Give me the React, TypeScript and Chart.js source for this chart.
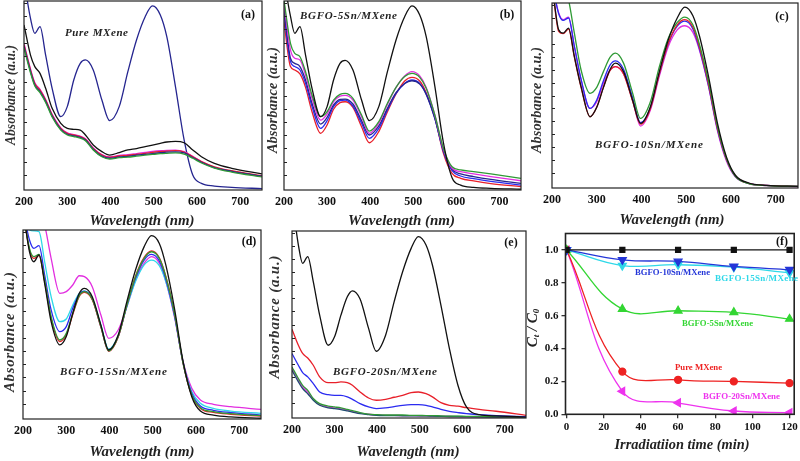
import { useEffect, useRef } from 'react';
import { Chart, registerables } from 'chart.js';
Chart.register(...registerables);

const SERIF = '"Liberation Serif", "Times New Roman", serif';
const W = 800;
const H = 461;

// ---------- DATA ----------
const WL = [200, 215, 225, 237, 250, 265, 285, 300, 315, 330, 342, 360, 380, 398, 420, 440, 460, 480, 497, 515, 530, 550, 570, 590, 610, 640, 680, 750];
const WL_TICKS = [200, 300, 400, 500, 600, 700];
const MINOR_TICKS = [8, 15, 22, 29, 36, 43, 50, 57, 64, 71, 78, 85, 92, 99];

// (a) Pure MXene
const A_DYE = [111, 90.8, 82.9, 86.4, 71.4, 53.8, 38.8, 44.1, 58.2, 67.0, 68.8, 63.5, 47.6, 36.7, 44.1, 62.6, 79.4, 91.7, 97.4, 92.6, 81.1, 54.7, 26.5, 7.9, 3.5, 2.1, 1.4, 0.7];
const A_BLACK = [87.3, 71.4, 65.3, 61.7, 53.8, 43.2, 35.3, 32.6, 32.1, 31.7, 29.1, 23.8, 20.3, 18.5, 19.8, 21.2, 21.9, 22.9, 23.8, 24.7, 25.4, 25.7, 25.0, 21.2, 17.6, 14.1, 11.5, 8.5];
const A_RED = [76.7, 63.5, 56.4, 52.9, 47.6, 39.7, 32.6, 30.0, 29.1, 28.2, 26.8, 22.0, 18.5, 17.3, 18.0, 18.3, 18.9, 19.4, 19.9, 20.3, 20.6, 20.8, 20.1, 17.6, 15.0, 12.3, 10.2, 7.6];
const A_MAG = [77.5, 64.0, 56.8, 53.2, 47.9, 40.0, 32.9, 30.2, 29.3, 28.5, 27.1, 22.3, 18.7, 17.5, 18.3, 18.7, 19.3, 19.9, 20.4, 20.8, 21.0, 21.1, 20.3, 17.8, 15.0, 12.0, 9.8, 7.2];
const A_GREEN = [75.2, 62.0, 55.0, 51.5, 46.3, 38.6, 31.7, 29.1, 28.3, 27.4, 26.0, 21.2, 17.6, 16.4, 17.1, 17.4, 17.9, 18.4, 18.8, 19.2, 19.4, 19.6, 19.0, 16.8, 14.3, 11.6, 9.5, 6.9];
const A_BLUE = [76.0, 62.8, 55.6, 52.1, 46.9, 39.1, 32.1, 29.5, 28.7, 27.8, 26.4, 21.6, 17.9, 16.8, 17.5, 17.8, 18.4, 18.9, 19.3, 19.7, 20.0, 20.2, 19.6, 17.2, 14.7, 11.9, 9.9, 7.3];

// (b) BGFO-5Sn/MXene
const B_BLACK = [111, 92.0, 82.9, 86.4, 71.4, 53.8, 38.8, 44.1, 58.2, 67.0, 68.6, 63.5, 47.6, 36.7, 44.1, 62.6, 79.4, 91.7, 97.4, 92.6, 81.1, 55.0, 25.0, 6.5, 2.6, 1.4, 0.9, 0.4];
const B_GREEN = [100.5, 77.6, 72.3, 70.5, 62.6, 50.3, 38.8, 41.4, 47.6, 50.6, 51.1, 48.5, 39.7, 31.2, 36.2, 45.9, 54.3, 60.0, 61.7, 59.6, 53.8, 39.7, 22.0, 12.3, 10.6, 9.7, 8.5, 6.2];
const B_MAG = [98.8, 74.1, 69.7, 68.8, 60.8, 48.5, 37.0, 40.2, 46.7, 49.7, 50.1, 47.6, 38.8, 30.0, 35.3, 45.3, 54.3, 60.3, 62.6, 60.3, 54.3, 39.7, 21.5, 11.5, 9.7, 8.5, 7.1, 4.9];
const B_NAVY = [96.1, 69.7, 67.0, 65.3, 58.2, 45.9, 34.9, 38.4, 45.0, 48.0, 48.1, 45.5, 36.7, 29.1, 33.9, 43.2, 51.5, 56.4, 57.8, 56.1, 50.6, 37.9, 20.8, 10.9, 8.5, 7.1, 5.6, 3.5];
const B_BLUE = [93.5, 67.9, 65.3, 63.5, 56.4, 44.1, 32.6, 36.7, 44.1, 47.3, 47.6, 44.4, 35.3, 27.3, 32.6, 42.3, 51.1, 56.4, 58.2, 56.4, 50.8, 37.9, 20.3, 10.2, 7.4, 6.0, 4.6, 2.6];
const B_RED = [89.1, 65.3, 63.5, 61.4, 54.3, 41.4, 30.0, 34.4, 42.7, 46.2, 46.7, 43.7, 33.5, 25.0, 30.9, 41.4, 50.8, 57.7, 59.6, 57.7, 51.5, 38.4, 19.4, 8.8, 6.2, 4.8, 3.4, 1.8];

// (c) BGFO-10Sn/MXene
const C_BLACK = [110.8, 85.5, 83.7, 86.4, 71.1, 54.8, 38.5, 43.6, 54.4, 64.2, 67.5, 62.9, 47.6, 34.9, 43.9, 62.9, 80.1, 91.9, 97.8, 93.1, 81.9, 60.2, 34.9, 16.8, 6.9, 2.7, 1.4, 0.9];
const C_GREEN = [140, 125, 112, 101.8, 83.7, 63.8, 51.2, 54.4, 62.9, 70.7, 72.9, 67.5, 51.5, 37.6, 46.6, 65.6, 81.0, 89.5, 92.4, 88.2, 77.4, 57.5, 33.1, 15.9, 6.3, 2.4, 1.3, 0.9];
const C_MAG = [111, 94.6, 91.0, 92.4, 76.5, 58.4, 43.0, 46.6, 56.6, 63.8, 65.6, 61.7, 47.6, 33.5, 42.1, 60.5, 76.5, 85.5, 87.7, 84.1, 74.2, 54.8, 30.9, 14.6, 6.0, 2.4, 1.3, 0.7];
const C_BLUE = [111, 94.2, 90.6, 91.9, 76.5, 58.8, 43.0, 47.6, 58.0, 66.5, 68.7, 64.2, 49.0, 35.3, 43.4, 61.7, 78.1, 87.5, 90.2, 86.0, 75.0, 55.2, 31.6, 15.4, 6.3, 2.5, 1.4, 0.9];
const C_RED = [110.8, 84.6, 83.4, 85.9, 70.7, 54.4, 38.5, 43.6, 54.4, 63.5, 65.6, 61.7, 47.2, 34.5, 43.0, 61.7, 78.3, 88.2, 91.0, 87.0, 76.1, 56.2, 32.2, 15.7, 6.5, 2.5, 1.4, 0.9];

// (d) BGFO-15Sn/MXene
const D_BLACK = [111.5, 88.5, 83.2, 86.8, 71.8, 51.5, 39.2, 43.6, 55.9, 66.5, 69.1, 64.7, 49.7, 36.5, 44.4, 62.1, 78.8, 91.2, 97.0, 92.9, 81.5, 58.6, 30.3, 11.8, 4.2, 2.1, 1.1, 0.4];
const D_GREEN = [110, 90.3, 85.9, 87.1, 73.5, 54.1, 41.8, 45.3, 55.9, 65.3, 67.4, 63.5, 48.9, 36.0, 43.6, 60.3, 75.3, 85.0, 88.5, 85.0, 75.3, 55.9, 29.5, 12.7, 6.0, 3.9, 2.8, 1.8];
const D_RED = [110, 89.5, 85.0, 86.5, 72.8, 53.3, 41.0, 44.6, 55.3, 64.9, 67.0, 63.1, 48.6, 35.8, 43.4, 60.3, 75.6, 85.5, 88.9, 85.3, 75.5, 56.0, 29.5, 12.5, 5.6, 3.5, 2.5, 1.5];
const D_BLUE = [111, 94.7, 90.3, 91.7, 76.2, 57.7, 46.2, 48.9, 58.6, 66.0, 67.7, 63.5, 48.9, 36.0, 43.6, 60.0, 74.4, 84.1, 87.1, 83.6, 74.1, 55.0, 29.5, 13.6, 6.9, 4.6, 3.4, 2.1];
const D_CYAN = [106, 100, 99.5, 99.1, 83.2, 64.7, 51.5, 52.9, 60.3, 66.5, 67.7, 63.8, 49.7, 37.0, 44.1, 59.4, 72.7, 81.5, 84.1, 81.1, 72.7, 54.7, 30.0, 14.5, 8.3, 5.6, 4.2, 3.0];
const D_MAG = [140, 125, 116.8, 109.7, 102.6, 85.0, 66.5, 67.4, 70.9, 75.8, 75.3, 70.0, 55.0, 42.7, 47.1, 59.4, 73.5, 82.4, 85.9, 82.4, 73.0, 54.1, 30.3, 16.2, 10.1, 7.8, 6.5, 5.1];

// (e) BGFO-20Sn/MXene
const E_BLACK = [117.5, 92.5, 82.7, 86.3, 72.9, 55.0, 38.9, 43.4, 55.0, 64.8, 68.0, 63.6, 47.9, 35.7, 44.3, 62.1, 78.2, 90.7, 97.0, 92.5, 81.8, 60.4, 37.1, 17.5, 5.9, 1.8, 1.1, 0.5];
const E_RED = [47.5, 38.9, 34.5, 32.1, 28.2, 22.0, 18.9, 18.9, 19.3, 18.9, 17.5, 13.9, 10.7, 9.5, 10.0, 11.1, 12.1, 13.6, 13.9, 13.0, 11.3, 8.2, 6.8, 6.3, 5.5, 4.6, 3.6, 1.4];
const E_BLUE = [34.5, 28.2, 24.3, 22.0, 18.4, 13.9, 12.5, 12.1, 12.1, 11.3, 10.0, 7.7, 5.9, 5.0, 5.4, 6.1, 6.8, 7.1, 7.1, 6.8, 5.9, 4.6, 3.6, 2.9, 2.3, 1.8, 1.3, 0.7];
const E_GREEN = [27.3, 21.1, 17.5, 14.8, 10.4, 7.7, 6.4, 5.9, 5.4, 4.6, 3.9, 2.9, 2.1, 1.8, 1.6, 1.6, 1.6, 1.4, 1.4, 1.3, 1.3, 1.1, 1.0, 1.0, 0.9, 0.9, 0.7, 0.5];
const E_NAVY = [25.5, 19.3, 15.7, 13.0, 9.5, 6.8, 5.4, 5.0, 4.5, 3.8, 3.2, 2.3, 1.8, 1.4, 1.3, 1.3, 1.2, 1.2, 1.1, 1.1, 1.0, 0.9, 0.8, 0.8, 0.7, 0.6, 0.5, 0.4];
const E_MAG = [26.4, 20.2, 16.5, 13.8, 10.0, 7.2, 5.8, 5.4, 4.9, 4.2, 3.5, 2.6, 2.0, 1.6, 1.4, 1.4, 1.3, 1.3, 1.2, 1.1, 1.0, 0.9, 0.8, 0.7, 0.6, 0.6, 0.5, 0.5];

// (f) kinetics
const TIME = [0, 30, 60, 90, 120];
const TIME_TICKS = [0, 20, 40, 60, 80, 100, 120];
const CC_TICKS = [0, 0.2, 0.4, 0.6, 0.8, 1.0];
const F_BLANK = [1.0, 1.0, 1.0, 1.0, 1.0];
const F_10SN = [1.0, 0.94, 0.93, 0.9, 0.88];
const F_15SN = [1.0, 0.905, 0.91, 0.895, 0.86];
const F_5SN = [1.0, 0.64, 0.63, 0.62, 0.58];
const F_PURE = [1.0, 0.26, 0.21, 0.2, 0.19];
const F_20SN = [1.0, 0.14, 0.07, 0.02, 0.01];

// ---------- COLOURS ----------
const K = '#111111';
const RED = '#e8202a';
const MAG = '#e22ee0';
const GRN = '#2f9a35';
const NAVY = '#25258f';
const BLU = '#2b2bf0';
const CYN = '#2fd8e8';

// ---------- HELPERS ----------
function drawFit(ctx: any, s: string, cx: number, cy: number, target?: number) {
  ctx.textBaseline = 'middle';
  const nat = ctx.measureText(s).width;
  if (!target || Math.abs(target - nat) < 0.5) {
    ctx.textAlign = 'center';
    ctx.fillText(s, cx, cy);
    return;
  }
  if (target < nat) {
    ctx.save();
    ctx.translate(cx, cy);
    ctx.scale(target / nat, 1);
    ctx.textAlign = 'center';
    ctx.fillText(s, 0, 0);
    ctx.restore();
    return;
  }
  const chars = Array.from(s);
  const widths = chars.map((c) => ctx.measureText(c).width);
  const sum = widths.reduce((p, q) => p + q, 0);
  const extra = (target - sum) / Math.max(1, chars.length - 1);
  let x = cx - target / 2;
  ctx.textAlign = 'left';
  chars.forEach((c, i) => {
    ctx.fillText(c, x, cy);
    x += widths[i] + extra;
  });
}

type Txt = { t: string; x: number; y: number; size: number; style?: string; color: string; w?: number; rot?: boolean };

function decor(cfg: { frameWidth: number; minor?: number[]; texts: Txt[]; ctLabel?: { x: number; y: number } }) {
  return {
    id: 'decor',
    afterDraw(chart: any) {
      const ctx = chart.ctx;
      const a = chart.chartArea;
      ctx.save();
      ctx.strokeStyle = '#222';
      ctx.lineWidth = cfg.frameWidth;
      ctx.strokeRect(a.left, a.top, a.right - a.left, a.bottom - a.top);
      if (cfg.minor) {
        ctx.lineWidth = 1;
        const ys = chart.scales.y;
        cfg.minor.forEach((v) => {
          const py = Math.round(ys.getPixelForValue(v)) + 0.5;
          ctx.beginPath();
          ctx.moveTo(a.left, py);
          ctx.lineTo(a.left + 3, py);
          ctx.stroke();
        });
      }
      cfg.texts.forEach((t) => {
        ctx.fillStyle = t.color;
        ctx.font = `${t.style || 'bold'} ${t.size}px ${SERIF}`;
        if (t.rot) {
          ctx.save();
          ctx.translate(t.x, t.y);
          ctx.rotate(-Math.PI / 2);
          drawFit(ctx, t.t, 0, 0, t.w);
          ctx.restore();
        } else {
          drawFit(ctx, t.t, t.x, t.y, t.w);
        }
      });
      if (cfg.ctLabel) {
        const { x, y } = cfg.ctLabel;
        ctx.save();
        ctx.translate(x, y);
        ctx.rotate(-Math.PI / 2);
        ctx.fillStyle = '#222';
        ctx.textBaseline = 'middle';
        ctx.textAlign = 'left';
        const big = `italic bold 15px ${SERIF}`;
        const small = `italic bold 9px ${SERIF}`;
        const parts: [string, string, number][] = [
          ['C', big, 0],
          ['t', small, 4],
          [' / ', big, 0],
          ['C', big, 0],
          ['0', small, 4],
        ];
        let total = 0;
        parts.forEach(([s, f]) => {
          ctx.font = f;
          total += ctx.measureText(s).width;
        });
        let px = -total / 2;
        parts.forEach(([s, f, dy]) => {
          ctx.font = f;
          ctx.fillText(s, px, dy);
          px += ctx.measureText(s).width;
        });
        ctx.restore();
      }
      ctx.restore();
    },
  };
}

function spectrumConfig(area: number[], series: [number[], string][], texts: Txt[]) {
  const [l, t, r, b] = area;
  const XH = 30;
  return {
    type: 'line',
    data: {
      datasets: series.map(([vals, color]) => ({
        data: WL.map((x, i) => ({ x, y: vals[i] })),
        borderColor: color,
        backgroundColor: color,
        borderWidth: 1.3,
        pointRadius: 0,
        cubicInterpolationMode: 'monotone',
        fill: false,
      })),
    },
    options: {
      responsive: false,
      animation: false,
      events: [],
      layout: { padding: { left: l, top: t, right: W - r, bottom: H - b - XH } },
      plugins: { legend: { display: false }, tooltip: { enabled: false } },
      scales: {
        x: {
          type: 'linear',
          min: 200,
          max: 750,
          grid: { display: false, drawTicks: false },
          border: { display: false },
          ticks: { font: { family: SERIF, size: 12, weight: 'bold' }, color: '#111', padding: 5, maxRotation: 0 },
          afterBuildTicks: (s: any) => {
            s.ticks = WL_TICKS.map((v) => ({ value: v }));
          },
          afterFit: (s: any) => {
            s.height = XH;
            s.paddingLeft = 0;
            s.paddingRight = 0;
          },
        },
        y: { display: false, min: 0, max: 100 },
      },
    },
    plugins: [decor({ frameWidth: 1.2, minor: MINOR_TICKS, texts })],
  };
}

const titleFont = (t: string, x: number, y: number, w: number): Txt => ({ t, x, y, size: 11, style: 'italic bold', color: '#222', w });
const panelTag = (t: string, x: number, y: number): Txt => ({ t, x, y, size: 12, style: 'bold', color: '#111' });
const xTitle = (t: string, x: number, y: number, w: number): Txt => ({ t, x, y, size: 15, style: 'italic bold', color: '#222', w });
const yTitle = (x: number, y: number, w: number): Txt => ({ t: 'Absorbance (a.u.)', x, y, size: 15, style: 'italic bold', color: '#333', w, rot: true });

function configA() {
  return spectrumConfig(
    [24, 1, 262, 190],
    [[A_BLACK, K], [A_GREEN, GRN], [A_BLUE, NAVY], [A_RED, RED], [A_MAG, MAG], [A_DYE, NAVY]],
    [titleFont('Pure MXene', 96.5, 33, 63), panelTag('(a)', 248, 15), xTitle('Wavelength (nm)', 142, 221, 105), yTitle(11, 95, 100)]
  );
}
function configB() {
  return spectrumConfig(
    [284, 1, 521, 190],
    [[B_BLACK, K], [B_GREEN, GRN], [B_MAG, MAG], [B_NAVY, NAVY], [B_BLUE, BLU], [B_RED, RED]],
    [titleFont('BGFO-5Sn/MXene', 348.5, 16, 97), panelTag('(b)', 507, 15), xTitle('Wavelength (nm)', 401.5, 221, 107), yTitle(273, 100, 106)]
  );
}
function configC() {
  return spectrumConfig(
    [552, 3, 798, 188],
    [[C_BLACK, K], [C_GREEN, GRN], [C_RED, RED], [C_BLUE, BLU], [C_MAG, MAG]],
    [titleFont('BGFO-10Sn/MXene', 649, 145, 108), panelTag('(c)', 782, 17), xTitle('Wavelength (nm)', 672, 220, 105), yTitle(537, 100, 106)]
  );
}
function configD() {
  return spectrumConfig(
    [23, 230, 261, 419],
    [[D_BLACK, K], [D_GREEN, GRN], [D_RED, RED], [D_BLUE, BLU], [D_CYAN, CYN], [D_MAG, MAG]],
    [titleFont('BGFO-15Sn/MXene', 113.5, 372, 107), panelTag('(d)', 249, 242), xTitle('Wavelength (nm)', 142, 452, 105), yTitle(10, 332, 120)]
  );
}
function configE() {
  return spectrumConfig(
    [292, 231, 526, 418],
    [[E_BLACK, K], [E_RED, RED], [E_BLUE, BLU], [E_GREEN, GRN], [E_NAVY, '#1f4f6f'], [E_MAG, MAG]],
    [titleFont('BGFO-20Sn/MXene', 385, 372, 104), panelTag('(e)', 511, 243), xTitle('Wavelength (nm)', 408, 452, 103), yTitle(275, 317, 123)]
  );
}

function configF() {
  const l = 565.5, t = 233.5, r = 797.5, b = 414.3;
  const YW = 40, XH = 30;
  const mk = (vals: number[], color: string, style: string, rot: number, radius: number) => ({
    data: TIME.map((x, i) => ({ x, y: vals[i] })),
    borderColor: color,
    backgroundColor: color,
    borderWidth: 1.3,
    pointRadius: radius,
    pointStyle: style,
    pointRotation: rot,
    tension: 0.4,
    fill: false,
  });
  const ann = (s: string, x: number, y: number, w: number, c: string): Txt => ({ t: s, x, y, size: 9, style: 'bold', color: c, w });
  const tickFont = { family: SERIF, size: 11, weight: 'bold' };
  return {
    type: 'line',
    data: {
      datasets: [
        mk(F_BLANK, K, 'rect', 0, 3.5),
        mk(F_10SN, '#2436d8', 'triangle', 180, 4.5),
        mk(F_15SN, CYN, 'triangle', 180, 4.5),
        mk(F_5SN, '#33d633', 'triangle', 0, 4.5),
        mk(F_PURE, '#ee2222', 'circle', 0, 3.5),
        mk(F_20SN, '#ee33ee', 'triangle', 270, 4.5),
      ],
    },
    options: {
      responsive: false,
      animation: false,
      events: [],
      layout: { padding: { left: l - YW, top: t, right: W - r, bottom: H - b - XH } },
      plugins: { legend: { display: false }, tooltip: { enabled: false } },
      scales: {
        x: {
          type: 'linear',
          min: -0.6,
          max: 122.5,
          grid: { display: true, drawOnChartArea: false, drawTicks: true, tickLength: 4, color: '#333', lineWidth: 1.3 },
          border: { display: false },
          ticks: { font: tickFont, color: '#111', padding: 2, maxRotation: 0 },
          afterBuildTicks: (s: any) => {
            s.ticks = TIME_TICKS.map((v) => ({ value: v }));
          },
          afterFit: (s: any) => {
            s.height = XH;
            s.paddingLeft = 0;
            s.paddingRight = 0;
          },
        },
        y: {
          type: 'linear',
          min: 0,
          max: 1.1,
          grid: { display: true, drawOnChartArea: false, drawTicks: true, tickLength: 4, color: '#333', lineWidth: 1.3 },
          border: { display: false },
          ticks: { font: tickFont, color: '#111', padding: 3, callback: (v: any) => Number(v).toFixed(1) },
          afterBuildTicks: (s: any) => {
            s.ticks = CC_TICKS.map((v) => ({ value: v }));
          },
          afterFit: (s: any) => {
            s.width = YW;
            s.paddingTop = 0;
            s.paddingBottom = 0;
          },
        },
      },
    },
    plugins: [
      decor({
        frameWidth: 1.6,
        texts: [
          panelTag('(f)', 782, 242),
          xTitle('Irradiatiion time (min)', 682, 445, 135),
          ann('BGFO-10Sn/MXene', 672.5, 273, 75, '#2436d8'),
          ann('BGFO-15Sn/MXene', 756.5, 279, 83, CYN),
          ann('BGFO-5Sn/MXene', 717.5, 324, 71, '#33d633'),
          ann('Pure MXene', 698.5, 368, 47, '#ee2222'),
          ann('BGFO-20Sn/MXene', 741.5, 397, 77, '#ee33ee'),
        ],
        ctLabel: { x: 533, y: 328 },
      }),
    ],
  };
}

function Panel({ make }: { make: () => any }) {
  const ref = useRef<HTMLCanvasElement | null>(null);
  useEffect(() => {
    const chart = new Chart(ref.current as HTMLCanvasElement, make());
    return () => chart.destroy();
  }, []);
  return <canvas ref={ref} width={W} height={H} style={{ position: 'absolute', left: 0, top: 0, width: W, height: H }} />;
}

export default function App() {
  return (
    <div style={{ position: 'absolute', left: 0, top: 0, width: W, height: H, background: '#fff', overflow: 'hidden' }}>
      <Panel make={configA} />
      <Panel make={configB} />
      <Panel make={configC} />
      <Panel make={configD} />
      <Panel make={configE} />
      <Panel make={configF} />
    </div>
  );
}
